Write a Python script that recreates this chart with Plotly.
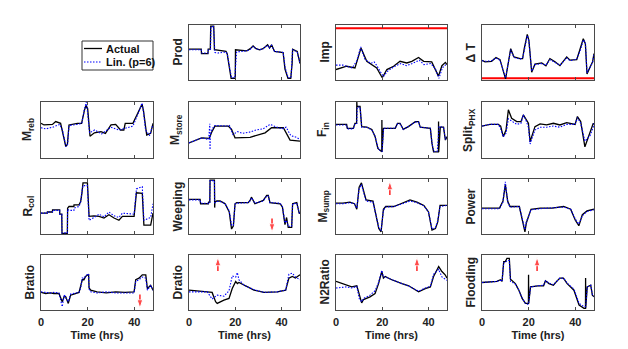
import plotly.graph_objects as go

# ---------------- data (normalised signal values, time in hours) ----------------
x_ticks = [0, 20, 40]

prod_t = [0, 5.3, 5.4, 8.2, 8.3, 9.2, 9.4, 10.7, 11.0, 16.0, 16.5, 17.8, 18.2, 20.0, 20.1, 25.0, 26.5, 27.7, 29.0, 30.5, 32.0, 34.0, 34.8, 35.7, 37.0, 40.7, 41.5, 42.8, 44.0, 44.6, 44.8, 46.8, 48.0]
prod_act = [0.56, 0.56, 0.48, 0.48, 0.56, 0.56, 0.98, 0.98, 0.55, 0.52, 0.48, 0.15, 0.03, 0.03, 0.55, 0.53, 0.57, 0.62, 0.57, 0.55, 0.57, 0.64, 0.58, 0.64, 0.52, 0.50, 0.20, 0.03, 0.03, 0.30, 0.56, 0.52, 0.30]
prod_lt = [0, 5.3, 5.5, 8.2, 8.4, 9.3, 9.5, 10.6, 11.2, 12.5, 16.0, 16.6, 17.8, 18.4, 19.8, 20.6, 25.0, 26.5, 27.7, 29.0, 30.5, 32.0, 34.0, 34.8, 35.7, 37.0, 40.7, 41.6, 42.9, 44.1, 44.8, 46.8, 48.0]
prod_lin = [0.55, 0.55, 0.49, 0.49, 0.55, 0.56, 0.97, 0.97, 0.50, 0.49, 0.51, 0.47, 0.17, 0.04, 0.04, 0.51, 0.53, 0.56, 0.61, 0.57, 0.55, 0.57, 0.63, 0.58, 0.63, 0.52, 0.50, 0.22, 0.04, 0.04, 0.55, 0.51, 0.31]

imp_t = [0, 4.6, 8.2, 9.5, 10.8, 13.3, 15.5, 17.6, 20.0, 22.0, 24.9, 27.7, 30.6, 32.8, 35.7, 37.9, 41.4, 42.8, 44.3, 45.8, 47.3, 48.0]
imp_act = [0.19, 0.25, 0.22, 0.40, 0.58, 0.34, 0.28, 0.22, 0.04, 0.19, 0.25, 0.34, 0.31, 0.34, 0.41, 0.34, 0.33, 0.19, 0.07, 0.26, 0.32, 0.28]
imp_lt = [0, 3.0, 7.0, 9.0, 10.7, 12.5, 15.0, 16.5, 17.5, 20.5, 22.0, 25.0, 28.0, 30.5, 33.0, 36.0, 38.0, 41.0, 43.0, 44.5, 46.0, 48.0]
imp_lin = [0.27, 0.27, 0.22, 0.35, 0.60, 0.38, 0.30, 0.33, 0.27, 0.06, 0.15, 0.24, 0.30, 0.26, 0.30, 0.36, 0.28, 0.30, 0.20, 0.03, 0.22, 0.30]
imp_limit = 0.94

dT_t = [0, 1.3, 4.1, 6.0, 7.7, 10.1, 12.3, 13.7, 16.3, 17.4, 18.1, 19.4, 20.1, 21.3, 22.7, 25.6, 27.4, 29.1, 31.3, 33.4, 36.3, 37.7, 40.6, 42.3, 43.4, 44.3, 45.0, 46.3, 47.4, 48.0]
dT_act = [0.36, 0.33, 0.34, 0.41, 0.37, 0.02, 0.57, 0.42, 0.39, 0.39, 0.57, 0.83, 0.72, 0.14, 0.29, 0.31, 0.26, 0.39, 0.33, 0.26, 0.42, 0.36, 0.37, 0.60, 0.75, 0.66, 0.11, 0.23, 0.33, 0.48]
dT_lin = [0.35, 0.34, 0.35, 0.40, 0.36, 0.04, 0.55, 0.41, 0.38, 0.40, 0.53, 0.81, 0.70, 0.16, 0.28, 0.30, 0.27, 0.37, 0.32, 0.27, 0.40, 0.35, 0.38, 0.56, 0.73, 0.68, 0.13, 0.22, 0.32, 0.46]
dT_limit = 0.03

mreb_t = [0, 1.3, 4.9, 6.3, 8.4, 9.1, 10.6, 11.3, 12.0, 15.6, 17.4, 18.6, 19.3, 20.0, 21.0, 22.9, 25.7, 27.6, 30.0, 32.0, 34.1, 35.5, 36.1, 39.4, 40.9, 42.3, 43.3, 43.9, 45.3, 47.0, 48.0]
mreb_act = [0.62, 0.59, 0.60, 0.65, 0.62, 0.50, 0.21, 0.24, 0.59, 0.62, 0.62, 0.85, 0.94, 0.88, 0.39, 0.45, 0.47, 0.44, 0.59, 0.60, 0.50, 0.50, 0.62, 0.62, 0.74, 0.88, 0.96, 0.85, 0.41, 0.44, 0.62]
mreb_lt = [0, 2.0, 5.0, 8.0, 9.2, 10.7, 11.4, 12.0, 15.6, 17.5, 18.5, 19.4, 20.0, 20.8, 23.0, 26.0, 30.0, 33.5, 36.0, 39.4, 41.5, 43.3, 44.0, 44.8, 46.5, 48.0]
mreb_lin = [0.54, 0.52, 0.55, 0.60, 0.50, 0.20, 0.24, 0.58, 0.60, 0.62, 0.85, 1.00, 0.80, 0.45, 0.50, 0.43, 0.55, 0.50, 0.53, 0.57, 0.78, 0.98, 0.80, 0.50, 0.40, 0.60]

mst_t = [0, 5.5, 8.8, 9.8, 11.2, 17.0, 18.4, 19.9, 26.4, 32.9, 35.7, 40.8, 43.7, 48.0]
mst_act = [0.27, 0.36, 0.35, 0.46, 0.57, 0.57, 0.51, 0.36, 0.37, 0.45, 0.54, 0.54, 0.32, 0.30]
mst_lt = [0, 5.5, 8.5, 9.0, 9.1, 9.2, 10.0, 11.2, 17.0, 17.5, 19.0, 21.0, 23.0, 26.0, 29.0, 32.0, 35.0, 37.0, 40.0, 42.0, 44.0, 46.5, 48.0]
mst_lin = [0.27, 0.36, 0.33, 0.61, 0.15, 0.40, 0.52, 0.58, 0.57, 0.58, 0.42, 0.47, 0.44, 0.46, 0.50, 0.52, 0.60, 0.57, 0.52, 0.55, 0.40, 0.37, 0.33]

fin_t = [0, 4.6, 4.9, 7.5, 8.2, 8.9, 9.0, 9.1, 10.4, 11.1, 13.3, 15.5, 16.9, 18.1, 19.8, 19.85, 19.9, 20.5, 25.6, 26.6, 27.7, 29.1, 31.3, 34.3, 35.7, 36.4, 40.8, 41.5, 42.2, 43.7, 44.3, 44.35, 44.4, 45.1, 46.5, 47.3, 48.0]
fin_act = [0.60, 0.60, 0.53, 0.53, 0.62, 0.62, 1.00, 0.92, 0.92, 0.56, 0.55, 0.51, 0.38, 0.17, 0.11, 0.68, 0.11, 0.53, 0.53, 0.62, 0.62, 0.51, 0.56, 0.65, 0.65, 0.55, 0.53, 0.26, 0.11, 0.11, 0.11, 0.65, 0.11, 0.55, 0.55, 0.32, 0.38]
fin_lt = [0, 4.6, 4.9, 7.5, 8.2, 9.0, 9.2, 10.4, 11.1, 13.3, 15.5, 16.9, 18.3, 19.9, 20.6, 25.6, 26.6, 27.7, 29.1, 31.3, 34.3, 35.7, 36.4, 40.8, 41.6, 42.3, 43.8, 44.6, 46.5, 47.3, 48.0]
fin_lin = [0.59, 0.59, 0.52, 0.52, 0.61, 0.62, 0.91, 0.91, 0.55, 0.55, 0.50, 0.39, 0.16, 0.12, 0.53, 0.53, 0.61, 0.61, 0.51, 0.56, 0.64, 0.64, 0.55, 0.53, 0.24, 0.12, 0.12, 0.56, 0.55, 0.33, 0.38]

sp_t = [0, 3.4, 7.0, 8.0, 9.1, 10.3, 11.3, 12.7, 14.9, 16.7, 17.7, 18.6, 19.9, 20.6, 22.7, 24.9, 27.7, 30.6, 33.4, 36.3, 39.9, 40.9, 42.3, 44.1, 46.3, 47.7, 48.0]
sp_act = [0.57, 0.60, 0.60, 0.57, 0.38, 0.50, 0.86, 0.71, 0.65, 0.65, 0.77, 0.71, 0.62, 0.29, 0.56, 0.61, 0.59, 0.62, 0.59, 0.63, 0.60, 0.74, 0.65, 0.20, 0.44, 0.62, 0.60]
sp_lin = [0.57, 0.60, 0.60, 0.52, 0.38, 0.44, 0.70, 0.66, 0.60, 0.62, 0.77, 0.70, 0.55, 0.25, 0.50, 0.55, 0.55, 0.57, 0.55, 0.60, 0.60, 0.72, 0.62, 0.30, 0.40, 0.55, 0.62]

rcol_t = [0, 2.7, 2.75, 4.9, 4.95, 8.0, 8.05, 8.9, 9.0, 11.3, 11.4, 12.0, 14.1, 14.15, 16.3, 17.0, 17.5, 18.0, 19.9, 20.6, 22.7, 24.9, 27.0, 29.1, 31.3, 33.4, 34.9, 39.9, 40.9, 43.4, 44.1, 47.0, 48.0]
rcol_act = [0.38, 0.38, 0.40, 0.40, 0.44, 0.44, 0.36, 0.36, 0.01, 0.01, 0.47, 0.50, 0.50, 0.53, 0.53, 0.59, 0.73, 0.93, 0.93, 0.32, 0.33, 0.32, 0.29, 0.35, 0.29, 0.25, 0.32, 0.32, 0.75, 0.74, 0.16, 0.16, 0.38]
rcol_lin = [0.38, 0.38, 0.40, 0.40, 0.43, 0.43, 0.36, 0.36, 0.02, 0.02, 0.45, 0.43, 0.43, 0.47, 0.50, 0.58, 0.76, 0.88, 0.88, 0.25, 0.30, 0.36, 0.31, 0.40, 0.33, 0.30, 0.38, 0.36, 0.82, 0.86, 0.25, 0.30, 0.55]

wp_t = [0, 4.8, 5.0, 8.4, 8.5, 9.0, 9.1, 11.0, 11.1, 11.2, 12.0, 13.4, 14.8, 15.6, 17.4, 18.3, 18.4, 19.2, 19.9, 20.6, 25.6, 26.4, 27.0, 28.5, 30.0, 32.1, 33.6, 34.3, 35.0, 39.4, 40.4, 41.5, 42.2, 42.9, 44.4, 44.8, 46.6, 47.7, 48.0]
wp_act = [0.63, 0.63, 0.55, 0.55, 0.58, 0.58, 0.98, 0.98, 0.48, 0.58, 0.60, 0.60, 0.57, 0.55, 0.40, 0.15, 0.09, 0.15, 0.55, 0.57, 0.57, 0.61, 0.67, 0.55, 0.58, 0.61, 0.70, 0.70, 0.57, 0.55, 0.49, 0.17, 0.30, 0.12, 0.12, 0.55, 0.57, 0.37, 0.40]
wp_lin = [0.62, 0.62, 0.56, 0.56, 0.58, 0.58, 0.97, 0.97, 0.57, 0.57, 0.59, 0.59, 0.57, 0.55, 0.42, 0.17, 0.16, 0.16, 0.54, 0.56, 0.57, 0.60, 0.66, 0.56, 0.58, 0.60, 0.69, 0.69, 0.57, 0.56, 0.50, 0.20, 0.25, 0.14, 0.14, 0.55, 0.56, 0.38, 0.40]

ms_t = [0, 3, 6, 8, 9, 10, 11, 12, 13, 16, 17.5, 18.5, 19.5, 20.5, 21.5, 25, 28, 32, 35, 38, 40, 41.5, 43, 44, 45, 48]
ms_act = [0.56, 0.56, 0.58, 0.55, 0.45, 0.85, 0.93, 0.75, 0.62, 0.60, 0.30, 0.10, 0.04, 0.45, 0.50, 0.50, 0.55, 0.62, 0.58, 0.52, 0.40, 0.07, 0.10, 0.22, 0.52, 0.52]
ms_lin = [0.55, 0.55, 0.57, 0.55, 0.47, 0.82, 0.90, 0.73, 0.60, 0.58, 0.30, 0.12, 0.06, 0.43, 0.49, 0.50, 0.54, 0.60, 0.57, 0.51, 0.40, 0.09, 0.12, 0.24, 0.50, 0.52]

pw_t = [0, 7.5, 9, 10, 11, 12, 16, 17.5, 18.4, 19, 21, 25, 30, 35, 38, 40, 41.5, 43, 45, 48]
pw_act = [0.47, 0.47, 0.60, 0.90, 0.60, 0.50, 0.50, 0.20, 0.04, 0.20, 0.45, 0.47, 0.47, 0.50, 0.45, 0.25, 0.15, 0.35, 0.42, 0.45]
pw_lin = [0.46, 0.46, 0.58, 0.95, 0.58, 0.49, 0.50, 0.22, 0.08, 0.22, 0.44, 0.46, 0.47, 0.49, 0.45, 0.27, 0.18, 0.33, 0.41, 0.44]

br_t = [0, 2.0, 4.0, 5.5, 7.7, 9.1, 10.0, 10.6, 11.7, 12.7, 16.3, 17.0, 17.7, 18.4, 19.1, 20.4, 20.6, 21.3, 24, 28, 32, 36, 39.9, 40.6, 42.0, 43.4, 44.9, 45.6, 47.0, 48.0]
br_act = [0.32, 0.30, 0.31, 0.30, 0.30, 0.15, 0.25, 0.24, 0.12, 0.27, 0.32, 0.45, 0.55, 0.55, 0.61, 0.65, 0.40, 0.36, 0.33, 0.31, 0.33, 0.32, 0.33, 0.55, 0.58, 0.64, 0.64, 0.39, 0.45, 0.36]
br_lin = [0.33, 0.32, 0.31, 0.32, 0.31, 0.06, 0.28, 0.22, 0.15, 0.29, 0.32, 0.40, 0.58, 0.57, 0.62, 0.66, 0.38, 0.33, 0.31, 0.33, 0.31, 0.31, 0.31, 0.52, 0.55, 0.60, 0.58, 0.36, 0.45, 0.36]

dr_t = [0, 4, 7.9, 10.0, 11.5, 12.2, 15.1, 17.3, 18.7, 20.2, 20.9, 21.6, 23.8, 28.1, 32.4, 38.2, 41.8, 43.2, 44.7, 46.0, 48.0]
dr_act = [0.36, 0.35, 0.33, 0.32, 0.15, 0.12, 0.18, 0.21, 0.39, 0.52, 0.48, 0.50, 0.45, 0.36, 0.32, 0.33, 0.36, 0.58, 0.61, 0.58, 0.64]
dr_lin = [0.33, 0.33, 0.33, 0.20, 0.25, 0.27, 0.25, 0.35, 0.62, 0.60, 0.68, 0.55, 0.45, 0.37, 0.32, 0.33, 0.36, 0.65, 0.67, 0.60, 0.55]

n2_t = [0, 4.6, 6.8, 9.0, 10.1, 11.1, 11.9, 14.7, 16.9, 18.4, 19.8, 20.5, 21.3, 24.1, 28.5, 31.4, 35.7, 38.6, 40.8, 42.2, 44.4, 45.8, 47.2, 48.0]
n2_act = [0.52, 0.45, 0.42, 0.44, 0.27, 0.13, 0.19, 0.24, 0.30, 0.48, 0.70, 0.58, 0.61, 0.55, 0.48, 0.44, 0.33, 0.39, 0.42, 0.61, 0.79, 0.70, 0.64, 0.58]
n2_lin = [0.40, 0.42, 0.40, 0.43, 0.20, 0.15, 0.21, 0.27, 0.35, 0.50, 0.72, 0.60, 0.60, 0.55, 0.48, 0.44, 0.34, 0.40, 0.43, 0.65, 0.74, 0.60, 0.57, 0.54]

fl_t = [0, 6.4, 7.9, 8.6, 9.3, 10.0, 10.7, 11.7, 12.2, 14.3, 15.8, 17.2, 18.6, 19.9, 19.95, 20.0, 20.8, 24.0, 26.4, 27.2, 28.7, 30.6, 32.0, 33.4, 34.9, 36.5, 39.4, 41.6, 43.7, 44.35, 44.4, 44.45, 45.1, 46.6, 47.3, 48.0]
fl_act = [0.50, 0.52, 0.55, 0.52, 0.88, 0.88, 0.94, 0.94, 0.56, 0.48, 0.36, 0.21, 0.12, 0.12, 0.64, 0.12, 0.42, 0.44, 0.44, 0.53, 0.48, 0.45, 0.52, 0.58, 0.58, 0.48, 0.36, 0.09, 0.03, 0.03, 0.58, 0.03, 0.42, 0.45, 0.27, 0.24]
fl_lin = [0.50, 0.52, 0.54, 0.52, 0.86, 0.86, 0.90, 0.90, 0.52, 0.47, 0.36, 0.22, 0.12, 0.10, 0.11, 0.12, 0.42, 0.44, 0.45, 0.53, 0.49, 0.46, 0.52, 0.58, 0.58, 0.49, 0.38, 0.12, 0.06, 0.06, 0.06, 0.08, 0.42, 0.45, 0.28, 0.25]

panel_labels = ["Prod", "Imp", "\u0394 T",
                "M<sub>reb</sub>", "M<sub>store</sub>", "F<sub>in</sub>", "Split<sub>PHX</sub>",
                "R<sub>col</sub>", "Weeping", "M<sub>sump</sub>", "Power",
                "Bratio", "Dratio", "N2Ratio", "Flooding"]
panel_rows = [0, 0, 0, 1, 1, 1, 1, 2, 2, 2, 2, 3, 3, 3, 3]
panel_cols = [1, 2, 3, 0, 1, 2, 3, 0, 1, 2, 3, 0, 1, 2, 3]
actual_series = [(prod_t, prod_act), (imp_t, imp_act), (dT_t, dT_act),
                 (mreb_t, mreb_act), (mst_t, mst_act), (fin_t, fin_act), (sp_t, sp_act),
                 (rcol_t, rcol_act), (wp_t, wp_act), (ms_t, ms_act), (pw_t, pw_act),
                 (br_t, br_act), (dr_t, dr_act), (n2_t, n2_act), (fl_t, fl_act)]
lin_series = [(prod_lt, prod_lin), (imp_lt, imp_lin), (dT_t, dT_lin),
              (mreb_lt, mreb_lin), (mst_lt, mst_lin), (fin_lt, fin_lin), (sp_t, sp_lin),
              (rcol_t, rcol_lin), (wp_t, wp_lin), (ms_t, ms_lin), (pw_t, pw_lin),
              (br_t, br_lin), (dr_t, dr_lin), (n2_t, n2_lin), (fl_t, fl_lin)]
limits = {1: imp_limit, 2: dT_limit}

arrow_panels = [8, 9, 11, 12, 13, 14]
arrow_times = [35.9, 23.3, 42.4, 12.5, 35.0, 23.6]
arrow_dirs = ["down", "up", "down", "up", "up", "up"]

legend_names = ["Actual", "Lin. (p=6)"]

# ---------------- layout geometry ----------------
W, H = 628, 349
col_px = [(41, 153), (189, 300), (336, 447), (482, 594)]
row_px = [(25, 80), (102, 158), (179, 234), (255, 310)]
FONT = "Liberation Sans, Arial, Helvetica, sans-serif"
FRAME = "#4a4a4a"
ACT_LINE = dict(color="black", width=1.3)
LIN_LINE = dict(color="#0000ff", width=1.1, dash="1.5px,1.5px")

fig = go.Figure()
layout = dict(
    width=W, height=H, margin=dict(l=0, r=0, t=0, b=0),
    paper_bgcolor="white", plot_bgcolor="white",
    font=dict(family=FONT, size=11, color="#222", weight="bold"),
    showlegend=False,
)
annotations = []
shapes = []

for i in range(len(panel_labels)):
    n = i + 1
    xa = "x" if n == 1 else f"x{n}"
    ya = "y" if n == 1 else f"y{n}"
    r, c = panel_rows[i], panel_cols[i]
    x0, x1 = col_px[c]
    y0, y1 = row_px[r]
    bottom = (r == 3)
    xax = dict(
        domain=[x0 / W, x1 / W], anchor=ya, range=[0, 48], automargin=False,
        tickvals=x_ticks, showticklabels=bottom, ticks="inside", ticklen=3,
        tickcolor=FRAME, showline=True, linecolor=FRAME, linewidth=1,
        mirror="ticks", showgrid=False, zeroline=False,
        tickfont=dict(size=11, weight="bold", color="#222"),
    )
    if bottom:
        xax["ticklabelstandoff"] = 2
        xax["title"] = dict(text="Time (hrs)", standoff=4,
                            font=dict(size=11, weight="bold", color="#222"))
    layout["xaxis" if n == 1 else f"xaxis{n}"] = xax
    layout["yaxis" if n == 1 else f"yaxis{n}"] = dict(
        domain=[1 - y1 / H, 1 - y0 / H], anchor=xa, range=[0, 1], automargin=False,
        showticklabels=False, ticks="", showline=True, linecolor=FRAME,
        linewidth=1, mirror=True, showgrid=False, zeroline=False,
    )
    if i in limits:
        fig.add_trace(go.Scatter(x=[0, 48], y=[limits[i], limits[i]], mode="lines",
                                 line=dict(color="#ff0000", width=2), showlegend=False,
                                 xaxis=xa, yaxis=ya, hoverinfo="skip"))
    ta, va = actual_series[i]
    tl, vl = lin_series[i]
    fig.add_trace(go.Scatter(x=ta, y=va, mode="lines", name=legend_names[0],
                             line=ACT_LINE, xaxis=xa, yaxis=ya))
    fig.add_trace(go.Scatter(x=tl, y=vl, mode="lines", name=legend_names[1],
                             line=LIN_LINE, xaxis=xa, yaxis=ya))
    annotations.append(dict(
        text=f"<b>{panel_labels[i]}</b>", xref="paper", yref="paper",
        x=(x0 - 3) / W, y=1 - (y0 + y1) / 2 / H, xanchor="right", yanchor="middle",
        textangle=-90, showarrow=False,
        font=dict(family=FONT, size=12, color="#222"),
    ))

# red arrows drawn as line traces ending in an arrow-head marker
for p, t, d in zip(arrow_panels, arrow_times, arrow_dirs):
    n = p + 1
    tip, tail = (0.03, 0.28) if d == "down" else (0.96, 0.71)
    fig.add_trace(go.Scatter(
        x=[t, t], y=[tail, tip], mode="lines+markers",
        line=dict(color="#ff0000", width=1.3),
        marker=dict(symbol="arrow", size=[0, 9], angleref="previous", color="#ff0000"),
        xaxis=f"x{n}", yaxis=f"y{n}", hoverinfo="skip", showlegend=False))

# legend box (drawn in the empty top-left slot)
lx0, lx1, ly0, ly1 = 82, 153, 41, 70
shapes.append(dict(type="rect", xref="paper", yref="paper",
                   x0=lx0 / W, x1=lx1 / W, y0=1 - ly1 / H, y1=1 - ly0 / H,
                   line=dict(color="#333", width=1), fillcolor="white"))
for k, (name, style) in enumerate(zip(legend_names, [ACT_LINE, LIN_LINE])):
    yy = 1 - (48.5 + 13.5 * k) / H
    shapes.append(dict(type="line", xref="paper", yref="paper",
                       x0=84 / W, x1=102 / W, y0=yy, y1=yy, line=style))
    annotations.append(dict(text=f"<b>{name}</b>", xref="paper", yref="paper",
                            x=104 / W, y=yy, xanchor="left", yanchor="middle",
                            showarrow=False,
                            font=dict(family=FONT, size=11, color="#111")))

layout["annotations"] = annotations
layout["shapes"] = shapes
fig.update_layout(**layout)
fig.write_html("out.html", config={"displayModeBar": False},
               post_script="document.body.style.margin='0';document.body.style.overflow='hidden';")
